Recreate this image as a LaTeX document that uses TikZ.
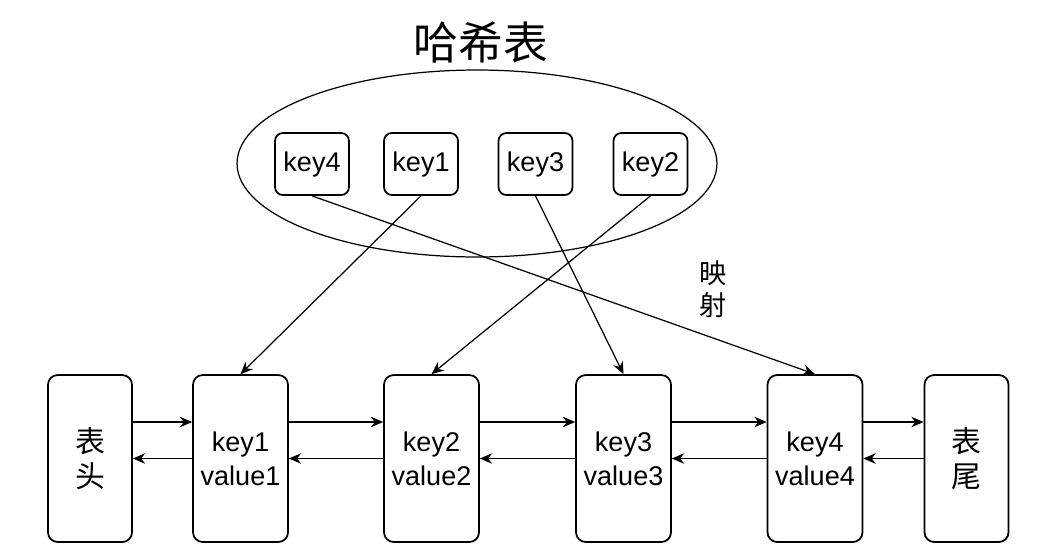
\documentclass[tikz,border=0pt]{standalone}
\usepackage{fontspec}
\setmainfont{Liberation Sans}
\newfontfamily\cjk{Noto Sans CJK SC}
\usetikzlibrary{calc,arrows.meta,shapes.geometric}

\tikzset{
  box/.style={draw, line width=1pt, rounded corners=5.5pt, align=center, inner sep=0pt,
    font=\fontsize{15.4}{19.4}\selectfont},
  listbox/.style={box, minimum width=1.9cm, minimum height=3.34cm},
  endbox/.style={box, minimum width=1.68cm, minimum height=3.34cm, font=\cjk\fontsize{17}{19.8}\selectfont},
  keybox/.style={box, rounded corners=4.5pt, minimum width=1.48cm, minimum height=1.24cm},
  link/.style={-{Stealth[length=7pt,width=6pt]}, line width=0.7pt}
}

\begin{document}
\begin{tikzpicture}[x=0.02cm,y=-0.02cm]
\useasboundingbox (0,0) rectangle (1037,555);
\node[font=\cjk\fontsize{25.5}{30}\selectfont] (title) at (481,42) {哈希表};
\node[draw, ellipse, line width=0.7pt, minimum width=9.6cm, minimum height=3.74cm] (hash) at (477,163.5) {};
% keys in the hash table
\foreach \k/\x in {4/312,1/421,3/535.5,2/650.5}
  \node[keybox] (h\k) at (\x,164) {key\k};
% the linked list
\node[endbox] (head) at (90,458.5) {表\\头};
\foreach \k/\x in {1/240.5,2/431.5,3/623.5,4/815}
  \node[listbox] (n\k) at (\x,458.5) {key\k\\value\k};
\node[endbox] (tail) at (966.5,458.5) {表\\尾};
\foreach \a/\b in {head/n1,n1/n2,n2/n3,n3/n4,n4/tail}{
  \draw[link] ([yshift=0.73cm]\a.east) -- ([yshift=0.73cm]\b.west);
  \draw[link] (\b.west) -- (\a.east);
}
%\draw[help lines] (0,0) grid[step=50] (1037,555);
\foreach \k in {1,...,4}
  \draw[link] (h\k.south) -- (n\k.north);
\node[font=\cjk\fontsize{15.5}{18}\selectfont, align=center] (map) at (713,289) {映\\射};
\end{tikzpicture}
\end{document}
